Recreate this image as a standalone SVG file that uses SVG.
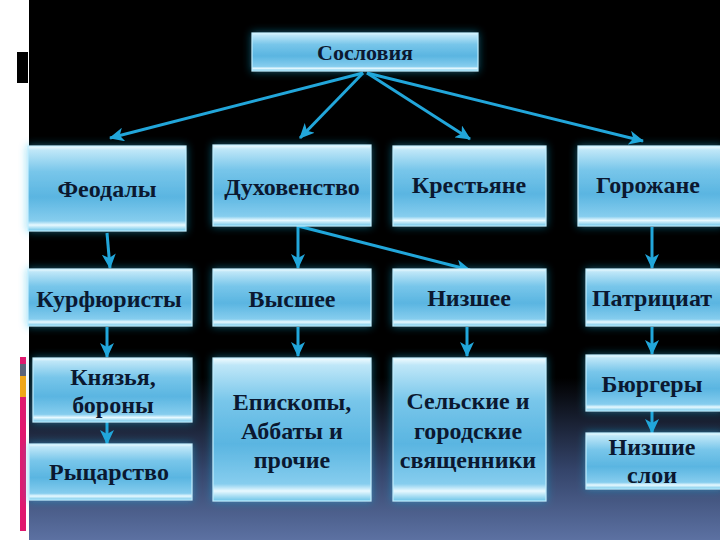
<svg xmlns="http://www.w3.org/2000/svg" width="720" height="540" viewBox="0 0 720 540">
<defs>
<linearGradient id="bg" x1="0" y1="0" x2="0" y2="1">
<stop offset="0" stop-color="#000"/>
<stop offset="0.7" stop-color="#000"/>
<stop offset="0.87" stop-color="#34446a"/>
<stop offset="1" stop-color="#5c71a2"/>
</linearGradient>
<linearGradient id="box" x1="0" y1="0" x2="0" y2="1">
<stop offset="0" stop-color="#f2fcff"/>
<stop offset="0.05" stop-color="#bfe7f8"/>
<stop offset="0.3" stop-color="#78c6ea"/>
<stop offset="0.6" stop-color="#5ab5e1"/>
<stop offset="0.88" stop-color="#86cdee"/>
<stop offset="0.93" stop-color="#e8f9ff"/>
<stop offset="1" stop-color="#6cc4e8"/>
</linearGradient>
<filter id="glow" x="-20%" y="-30%" width="140%" height="160%">
<feGaussianBlur in="SourceAlpha" stdDeviation="4" result="b"/>
<feFlood flood-color="#1fb8e8" flood-opacity="0.5"/>
<feComposite in2="b" operator="in" result="g"/>
<feMerge><feMergeNode in="g"/><feMergeNode in="SourceGraphic"/></feMerge>
</filter>
<marker id="ah" markerUnits="userSpaceOnUse" markerWidth="16" markerHeight="14" refX="14" refY="7" orient="auto">
<path d="M0,0 L15,7 L0,14 L4,7 z" fill="#22a6da"/>
</marker>
<style>
.b{fill:url(#box);stroke:#bfefff;stroke-width:1.2;filter:url(#glow)}
.t{font-family:"Liberation Serif","Times New Roman",serif;font-weight:bold;font-size:24px;fill:#0b1830;text-anchor:middle}
.c{stroke:#22a6da;stroke-width:3;fill:none;marker-end:url(#ah)}
</style>
</defs>
<rect x="0" y="0" width="720" height="540" fill="#fff"/>
<rect x="29" y="0" width="691" height="540" fill="url(#bg)"/>
<rect x="17" y="52" width="11" height="31" fill="#000"/>
<rect x="20" y="357" width="6" height="7" fill="#e0186e"/>
<rect x="20" y="364" width="6" height="12" fill="#5a6478"/>
<rect x="20" y="376" width="6" height="21" fill="#f0a818"/>
<rect x="20" y="397" width="6" height="134" fill="#e0186e"/>

<g id="connectors">
<line class="c" x1="363" y1="73" x2="110" y2="138"/>
<line class="c" x1="363" y1="73" x2="300" y2="138"/>
<line class="c" x1="367" y1="73" x2="470" y2="139"/>
<line class="c" x1="367" y1="73" x2="643" y2="141"/>
<line class="c" x1="107" y1="233" x2="110" y2="268"/>
<line class="c" x1="107" y1="327" x2="107" y2="357"/>
<line class="c" x1="107" y1="422" x2="107" y2="444"/>
<line class="c" x1="298" y1="226" x2="298" y2="268"/>
<line class="c" x1="298" y1="226" x2="470" y2="270"/>
<line class="c" x1="298" y1="327" x2="298" y2="356"/>
<line class="c" x1="467" y1="327" x2="467" y2="356"/>
<line class="c" x1="652" y1="227" x2="652" y2="268"/>
<line class="c" x1="652" y1="327" x2="652" y2="354"/>
<line class="c" x1="652" y1="411" x2="652" y2="433"/>
</g>

<g id="n-soslovia"><rect class="b" x="252" y="33" width="226" height="38"/><text class="t" x="365" y="60" style="font-size:22px">Сословия</text></g>

<g id="n-feodaly"><rect class="b" x="28" y="146" width="158" height="85"/><text class="t" x="107" y="197">Феодалы</text></g>
<g id="n-duhovenstvo"><rect class="b" x="213" y="145" width="158" height="81"/><text class="t" x="292" y="195">Духовенство</text></g>
<g id="n-krestyane"><rect class="b" x="393" y="146" width="153" height="80"/><text class="t" x="469" y="193">Крестьяне</text></g>
<g id="n-gorozhane"><rect class="b" x="578" y="146" width="144" height="80"/><text class="t" x="648" y="193">Горожане</text></g>

<g id="n-kurfyuristy"><rect class="b" x="28" y="269" width="164" height="57"/><text class="t" x="109" y="307">Курфюристы</text></g>
<g id="n-vysshee"><rect class="b" x="213" y="269" width="158" height="57"/><text class="t" x="292" y="307">Высшее</text></g>
<g id="n-nizshee"><rect class="b" x="393" y="269" width="153" height="57"/><text class="t" x="469" y="306">Низшее</text></g>
<g id="n-patriciat"><rect class="b" x="586" y="269" width="136" height="57"/><text class="t" x="652" y="306">Патрициат</text></g>

<g id="n-knyazya"><rect class="b" x="33" y="358" width="159" height="64"/><text class="t" x="113" y="385">Князья,</text><text class="t" x="113" y="413">бороны</text></g>
<g id="n-rycarstvo"><rect class="b" x="29" y="444" width="163" height="56"/><text class="t" x="109" y="480">Рыцарство</text></g>
<g id="n-episkopy"><rect class="b" x="213" y="358" width="158" height="143"/><text class="t" x="292" y="410">Епископы,</text><text class="t" x="292" y="439">Аббаты и</text><text class="t" x="292" y="468">прочие</text></g>
<g id="n-selskie"><rect class="b" x="393" y="358" width="153" height="143"/><text class="t" x="468" y="409">Сельские и</text><text class="t" x="468" y="439">городские</text><text class="t" x="468" y="468">священники</text></g>
<g id="n-byurgery"><rect class="b" x="586" y="355" width="136" height="56"/><text class="t" x="652" y="392">Бюргеры</text></g>
<g id="n-nizshie"><rect class="b" x="586" y="433" width="136" height="56"/><text class="t" x="652" y="455">Низшие</text><text class="t" x="652" y="483">слои</text></g>
</svg>
